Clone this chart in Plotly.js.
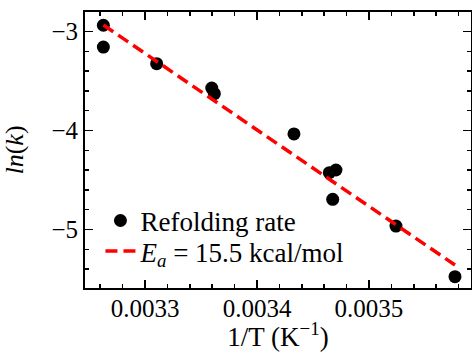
<!DOCTYPE html>
<html>
<head>
<meta charset="utf-8">
<script src="https://cdn.plot.ly/plotly-3.0.1.min.js"></script>
<style>html,body{margin:0;padding:0;background:#fff;}#chart{width:472px;height:352px;}</style>
</head>
<body>
<div id="chart"></div>
<script>
// Data
const invT = [0.0032628, 0.0032628, 0.0033104, 0.0033596, 0.0033619, 0.0034330, 0.0034646, 0.0034705, 0.0034676, 0.0035241, 0.0035768];
const lnk  = [-2.937, -3.157, -3.325, -3.571, -3.628, -4.035, -4.426, -4.399, -4.695, -4.965, -5.477];
const fitX = [0.0032628, 0.0035768];
const fitY = [-2.934, -5.359];
const pointLabel = 'Refolding rate';
const fitLabel = '<i>E<sub>a</sub></i> = 15.5 kcal/mol';

const FONT = 'Liberation Serif';

const traces = [
  {x: invT, y: lnk, mode: 'markers', type: 'scatter', name: pointLabel, legend: 'legend',
   marker: {color: 'black', size: 13}},
  {x: fitX, y: fitY, mode: 'lines', type: 'scatter', name: fitLabel, legend: 'legend2',
   line: {color: '#ff0000', width: 3.5, dash: '12px,6px'}}
];

const axisCommon = {
  showline: true, linecolor: 'black', linewidth: 2, mirror: 'allticks',
  ticks: 'inside', ticklen: 8, tickwidth: 1.5, tickcolor: 'black',
  showgrid: false, zeroline: false,
  tickfont: {family: FONT, size: 25, color: 'black'}
};

const legendCommon = {x: 0.04, xanchor: 'left', yanchor: 'middle',
  bgcolor: 'rgba(0,0,0,0)', font: {family: FONT, size: 27, color: 'black'}};

const layout = {
  width: 472, height: 352,
  margin: {l: 85, r: 1, t: 12, b: 64},
  paper_bgcolor: 'white', plot_bgcolor: 'white',
  font: {family: FONT, size: 25, color: 'black'},
  showlegend: true,
  legend: Object.assign({}, legendCommon, {y: 0.243}),
  legend2: Object.assign({}, legendCommon, {y: 0.132}),
  xaxis: Object.assign({}, axisCommon, {
    range: [0.0032464, 0.0035911], tick0: 0, dtick: 0.0001, tickformat: '.4f',
    ticklabelstandoff: -3,
    minor: {ticks: 'inside', ticklen: 4, tickwidth: 1.5, tickcolor: 'black', dtick: 0.00002, tick0: 0, showgrid: false},
    title: {text: '1/T (K<sup>−1</sup>)', font: {family: FONT, size: 27, color: 'black'}}
  }),
  yaxis: Object.assign({}, axisCommon, {
    range: [-5.591, -2.803], tick0: 0, dtick: 1,
    minor: {ticks: 'inside', ticklen: 4, tickwidth: 1.5, tickcolor: 'black', dtick: 0.2, tick0: 0, showgrid: false},
    title: {text: '<i>ln</i>(<i>k</i>)', font: {family: FONT, size: 26, color: 'black'}}
  })
};

Plotly.newPlot('chart', traces, layout, {displayModeBar: false, staticPlot: true});
</script>
</body>
</html>
